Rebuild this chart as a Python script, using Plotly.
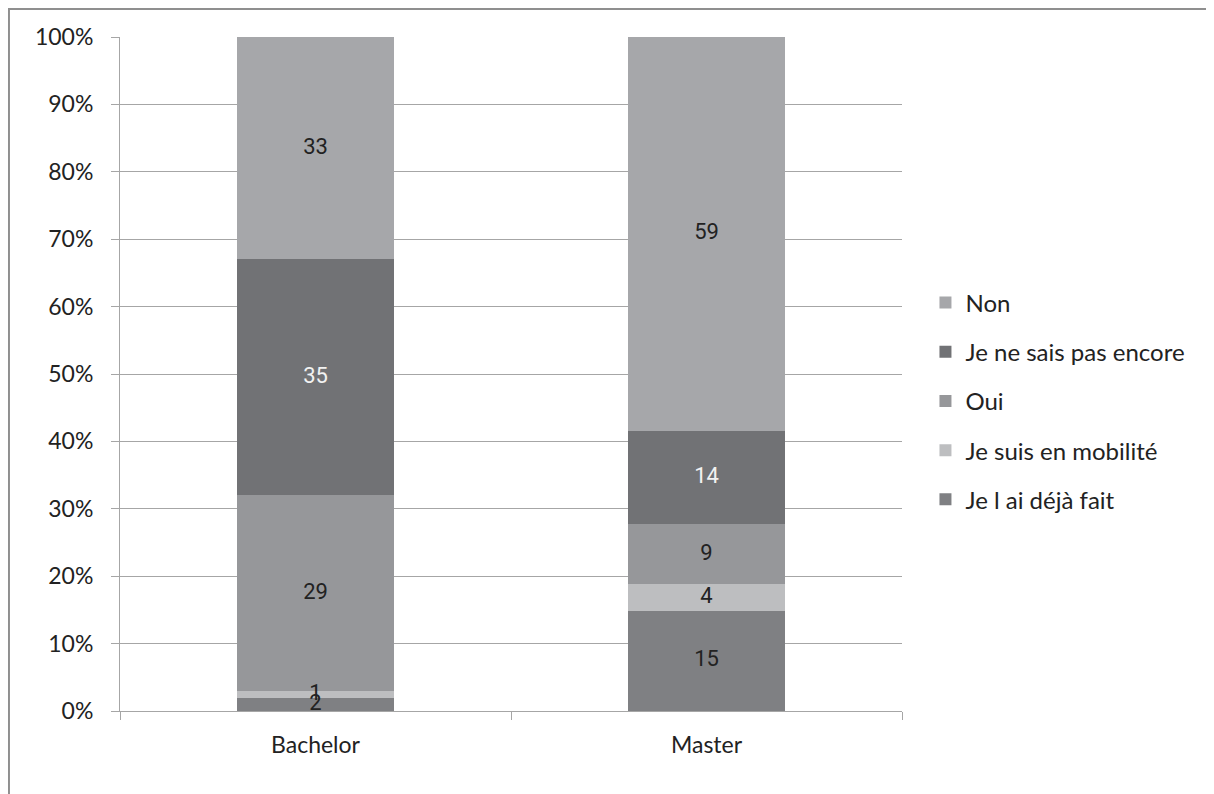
import plotly.graph_objects as go

# categories and series (counts shown in the bars)
niveaux = ['Bachelor', 'Master']
series = ['Je l ai déjà fait', 'Je suis en mobilité', 'Oui', 'Je ne sais pas encore', 'Non']
deja_fait = [2, 15]
mobilite = [1, 4]
oui = [29, 9]
ne_sais_pas = [35, 14]
non = [33, 59]

valeurs = [deja_fait, mobilite, oui, ne_sais_pas, non]
couleurs = ['#7f8083', '#bdbec0', '#96979a', '#717275', '#a6a7aa']
couleurs_texte = ['#222222', '#222222', '#222222', '#f2f2f2', '#222222']

fig = go.Figure()

totaux = [sum(v[i] for v in valeurs) for i in range(len(niveaux))]

for k, (nom, vals, coul) in enumerate(zip(series, valeurs, couleurs)):
    fig.add_trace(go.Bar(x=niveaux, y=vals, name=nom, marker_color=coul,
                         marker_line_width=0, legendgroup=nom,
                         legendrank=1000 - k))

# labels at middle of each segment, in percent of the column
cumul = [0.0] * len(niveaux)
for vals, ct in zip(valeurs, couleurs_texte):
    ys = []
    for i, v in enumerate(vals):
        pct = v / totaux[i] * 100
        ys.append(cumul[i] + pct / 2)
        cumul[i] += pct
    fig.add_trace(go.Scatter(x=niveaux, y=ys, mode='text', text=[str(v) for v in vals],
                             textfont=dict(size=22, color=ct, family='Roboto'),
                             showlegend=False, hoverinfo='skip', cliponaxis=False))

# the page has an 8px body margin, so the figure is a bit smaller
fig.update_layout(
    barmode='stack',
    barnorm='percent',
    bargap=0.6,
    width=1206, height=786,
    margin=dict(l=112, r=312, t=29, b=83),
    plot_bgcolor='white',
    paper_bgcolor='white',
    font=dict(family='Lato, Open Sans, sans-serif', size=23, color='#222222'),
    legend=dict(x=1.03, y=0.46, yanchor='middle', xanchor='left',
                traceorder='grouped', tracegroupgap=15,
                font=dict(size=24), itemwidth=30),
    shapes=[dict(type='rect', xref='paper', yref='paper',
                 x0=-0.142, x1=1.42, y0=-0.2, y1=1.0415,
                 line=dict(color='#8f8f8f', width=2), layer='below')],
)

fig.update_yaxes(range=[0, 100], tickvals=[0, 10, 20, 30, 40, 50, 60, 70, 80, 90, 100],
                 ticktext=['0%', '10%', '20%', '30%', '40%', '50%', '60%', '70%', '80%', '90%', '100%'],
                 showgrid=True, gridcolor='#a6a6a6', gridwidth=1,
                 showline=True, linecolor='#a6a6a6', linewidth=1,
                 ticks='outside', ticklen=8, tickcolor='#a6a6a6',
                 zeroline=False, ticklabelstandoff=13)

fig.update_xaxes(showline=True, linecolor='#a6a6a6', linewidth=1,
                 ticks='outside', ticklen=8, tickcolor='#a6a6a6',
                 tickson='boundaries', ticklabelstandoff=13)

fig.write_html("out.html")
